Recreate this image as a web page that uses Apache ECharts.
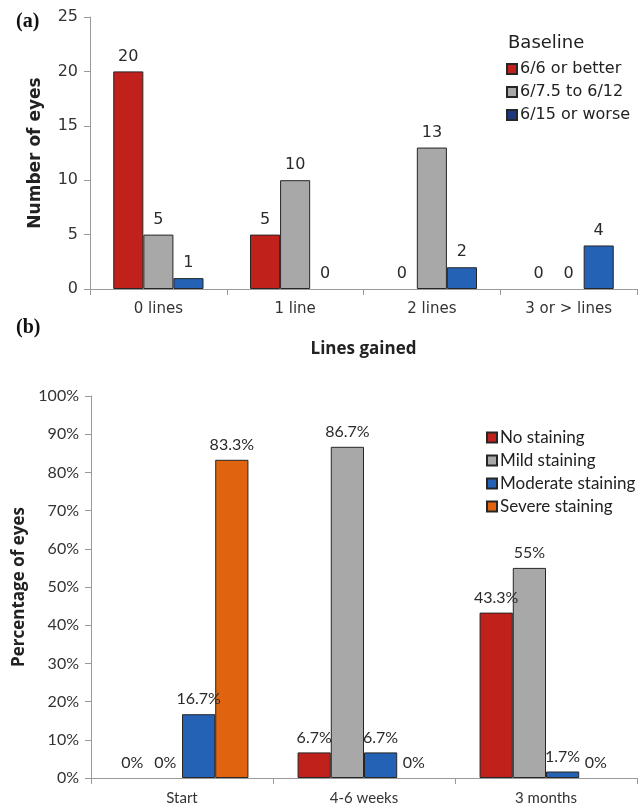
<!DOCTYPE html>
<html>
<head>
<meta charset="utf-8">
<style>
  html, body { margin: 0; padding: 0; background: #fff; }
  #chart { width: 644px; height: 808px; }
</style>
<script src="https://cdn.jsdelivr.net/npm/echarts@6/dist/echarts.min.js"></script>
</head>
<body>
<div id="chart"></div>
<script>
// Panel (a): lines of visual acuity gained, grouped by baseline acuity
const gainCategories = ['0 lines', '1 line', '2 lines', '3 or > lines'];
const baselineNames = ['6/6 or better', '6/7.5 to 6/12', '6/15 or worse'];
const better66 = [20, 5, 0, 0];
const mid75to12 = [5, 10, 13, 0];
const worse615 = [1, 0, 2, 4];

// Panel (b): corneal staining over follow-up (percentage of eyes)
const visitCategories = ['Start', '4-6 weeks', '3 months'];
const stainingNames = ['No staining', 'Mild staining', 'Moderate staining', 'Severe staining'];
const noStaining = [0, 6.7, 43.3];
const mildStaining = [0, 86.7, 55];
const moderateStaining = [16.7, 6.7, 1.7];
const severeStaining = [83.3, 0, 0];

const RED = '#C0211B', GRAY = '#A8A8A8', BLUE = '#2462B5', ORANGE = '#E0640F';
const EDGE = '#262626';
const FA = 'DejaVu Sans';
const FB = 'Lato';
const FBOLD = 'Open Sans';

const chart = echarts.init(document.getElementById('chart'));

// zero-height bars get no outline so they stay invisible
function toItems(data) {
  return data.map(v => v === 0 ? { value: v, itemStyle: { borderWidth: 0 } } : v);
}

function barSeries(name, data, color, axis, font, size, fmt) {
  return {
    name: name, type: 'bar', data: toItems(data),
    xAxisIndex: axis, yAxisIndex: axis,
    barGap: 0, barCategoryGap: axis === 0 ? '34%' : '27%',
    itemStyle: { color: color, borderColor: EDGE, borderWidth: 1 },
    label: {
      show: true, position: 'top', distance: 7,
      color: '#2a2a2a', fontFamily: font, fontSize: size,
      formatter: fmt
    },
    emphasis: { disabled: true }
  };
}

const axisLine = { show: true, lineStyle: { color: '#9a9a9a', width: 1 } };
const axisTick = { show: true, length: 6, lineStyle: { color: '#9a9a9a' } };

chart.setOption({
  animation: false,
  backgroundColor: '#fff',
  title: [{
    text: 'Baseline', left: 503, top: 29,
    textStyle: { fontFamily: FA, fontSize: 18, fontWeight: 'normal', color: '#222' }
  }],
  graphic: [
    { type: 'text', left: 16, top: 12, style: { text: '(a)', font: 'bold 20px "Liberation Serif"', fill: '#111' } },
    { type: 'text', left: 16, top: 318, style: { text: '(b)', font: 'bold 20px "Liberation Serif"', fill: '#111' } }
  ],
  legend: [
    {
      orient: 'vertical', left: 501, top: 56,
      itemWidth: 10, itemHeight: 10, itemGap: 7,
      icon: 'rect',
      textStyle: { fontFamily: FA, fontSize: 16, color: '#222', lineHeight: 16, padding: [0, 0, 0, -2] },
      data: [
        { name: baselineNames[0] },
        { name: baselineNames[1] },
        { name: baselineNames[2], itemStyle: { color: '#1E3580' } }
      ],
      selectedMode: false
    },
    {
      orient: 'vertical', left: 481, top: 424,
      itemWidth: 10, itemHeight: 10, itemGap: 6,
      icon: 'rect',
      textStyle: { fontFamily: FB, fontSize: 17, color: '#222', lineHeight: 17, padding: [0, 0, 0, -2] },
      data: stainingNames,
      selectedMode: false
    }
  ],
  grid: [
    { left: 90, top: 17, width: 547, height: 272 },
    { left: 91, top: 396, width: 546, height: 382 }
  ],
  xAxis: [
    {
      type: 'category', gridIndex: 0, data: gainCategories,
      axisLine: axisLine, axisTick: axisTick,
      axisLabel: { fontFamily: FA, fontSize: 15, color: '#333', margin: 13 },
      name: 'Lines gained', nameLocation: 'middle', nameGap: 52,
      nameTextStyle: { fontFamily: FBOLD, fontSize: 17, fontWeight: 'bold', color: '#222' }
    },
    {
      type: 'category', gridIndex: 1, data: visitCategories,
      axisLine: axisLine, axisTick: axisTick,
      axisLabel: { fontFamily: FB, fontSize: 15, color: '#333', margin: 13 }
    }
  ],
  yAxis: [
    {
      type: 'value', gridIndex: 0, min: 0, max: 25, interval: 5,
      axisLine: axisLine, axisTick: axisTick, splitLine: { show: false },
      axisLabel: { fontFamily: FA, fontSize: 16, color: '#333', margin: 12 },
      name: 'Number of eyes', nameLocation: 'middle', nameGap: 46, nameRotate: 90,
      nameTextStyle: { fontFamily: FA, fontSize: 17, fontWeight: 'bold', color: '#222' }
    },
    {
      type: 'value', gridIndex: 1, min: 0, max: 100, interval: 10,
      axisLine: axisLine, axisTick: axisTick, splitLine: { show: false },
      axisLabel: { fontFamily: FB, fontSize: 16, color: '#333', margin: 12, formatter: '{value}%' },
      name: 'Percentage of eyes', nameLocation: 'middle', nameGap: 53, nameRotate: 90,
      nameTextStyle: { fontFamily: FBOLD, fontSize: 17, fontWeight: 'bold', color: '#222' }
    }
  ],
  series: [
    barSeries(baselineNames[0], better66, RED, 0, FA, 16, '{c}'),
    barSeries(baselineNames[1], mid75to12, GRAY, 0, FA, 16, '{c}'),
    barSeries(baselineNames[2], worse615, BLUE, 0, FA, 16, '{c}'),
    barSeries(stainingNames[0], noStaining, RED, 1, FB, 16, '{c}%'),
    barSeries(stainingNames[1], mildStaining, GRAY, 1, FB, 16, '{c}%'),
    barSeries(stainingNames[2], moderateStaining, BLUE, 1, FB, 16, '{c}%'),
    barSeries(stainingNames[3], severeStaining, ORANGE, 1, FB, 16, '{c}%')
  ]
});
</script>
</body>
</html>
